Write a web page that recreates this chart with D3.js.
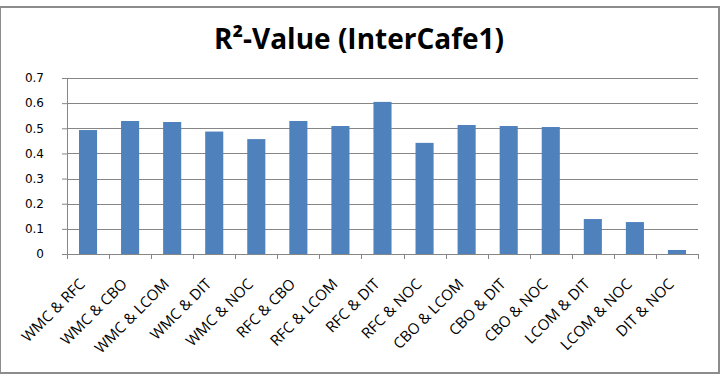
<!DOCTYPE html>
<html>
<head>
<meta charset="utf-8">
<script src="https://cdnjs.cloudflare.com/ajax/libs/d3/7.8.5/d3.min.js"></script>
<style>
  body { margin: 0; background: #fff; }
</style>
</head>
<body>
<script>
var w = 727;
var h = 380;

// data
var pairs = ["WMC & RFC", "WMC & CBO", "WMC & LCOM", "WMC & DIT", "WMC & NOC",
             "RFC & CBO", "RFC & LCOM", "RFC & DIT", "RFC & NOC", "CBO & LCOM",
             "CBO & DIT", "CBO & NOC", "LCOM & DIT", "LCOM & NOC", "DIT & NOC"];
var r2 = [0.493, 0.529, 0.525, 0.487, 0.457, 0.529, 0.509, 0.605, 0.442, 0.513,
          0.509, 0.505, 0.139, 0.127, 0.016];
var yTicks = [0, 0.1, 0.2, 0.3, 0.4, 0.5, 0.6, 0.7];

var plotLeft = 67, plotRight = 698, plotTop = 78, plotBottom = 254;

var svg = d3.select("body")
            .append("svg")
            .attr("width", w)
            .attr("height", h);

// chart frame
svg.append("rect")
   .attr("x", 0)
   .attr("y", 7)
   .attr("width", 719)
   .attr("height", 366)
   .attr("fill", "#fff")
   .attr("stroke", "#8c8c8c")
   .attr("stroke-width", 2);

svg.append("text")
   .attr("x", 359)
   .attr("y", 49)
   .attr("text-anchor", "middle")
   .attr("font-family", "Open Sans")
   .attr("font-weight", "bold")
   .attr("font-size", 28)
   .attr("fill", "#000")
   .text("R²-Value (InterCafe1)");

var x = d3.scaleBand()
          .domain(pairs)
          .range([plotLeft, plotRight])
          .paddingInner(0.57)
          .paddingOuter(0.285);

var y = d3.scaleLinear()
          .domain([0, 0.7])
          .range([plotBottom, plotTop]);

// gridlines
svg.append("g")
   .selectAll("line")
   .data(yTicks.slice(1))
   .enter()
   .append("line")
   .attr("x1", plotLeft)
   .attr("x2", plotRight)
   .attr("y1", function(d){ return Math.round(y(d)) + 0.5; })
   .attr("y2", function(d){ return Math.round(y(d)) + 0.5; })
   .attr("stroke", "#868686");

// y axis
var yAxis = svg.append("g")
   .attr("transform", "translate(" + plotLeft + ",0)")
   .call(d3.axisLeft(y).tickValues(yTicks).tickSize(5).tickPadding(18)
           .tickFormat(function(d){ return d === 0 ? "0" : d3.format(".1f")(d); }));
yAxis.select(".domain").attr("stroke", "#868686");
yAxis.selectAll(".tick line").attr("stroke", "#868686");
yAxis.selectAll("text")
     .attr("font-family", "DejaVu Sans")
     .attr("font-size", 12)
     .attr("fill", "#000");

// bars
svg.selectAll("rect.bar")
   .data(r2)
   .enter()
   .append("rect")
   .attr("class", "bar")
   .attr("x", function(d, i){ return x(pairs[i]); })
   .attr("y", function(d){ return y(d); })
   .attr("width", x.bandwidth())
   .attr("height", function(d){ return plotBottom - y(d); })
   .attr("fill", "#4f81bd");

// x axis with ticks between categories
var xAxis = svg.append("g")
   .attr("transform", "translate(0," + plotBottom + ")");
xAxis.append("line")
     .attr("x1", plotLeft).attr("x2", plotRight)
     .attr("y1", 0.5).attr("y2", 0.5)
     .attr("stroke", "#868686");
xAxis.selectAll("line.tk")
     .data(d3.range(pairs.length + 1))
     .enter()
     .append("line")
     .attr("class", "tk")
     .attr("x1", function(i){ return Math.round(plotLeft + i * (plotRight - plotLeft) / pairs.length) + 0.5; })
     .attr("x2", function(i){ return Math.round(plotLeft + i * (plotRight - plotLeft) / pairs.length) + 0.5; })
     .attr("y1", 0).attr("y2", 5)
     .attr("stroke", "#868686");

xAxis.selectAll("text")
     .data(pairs)
     .enter()
     .append("text")
     .attr("transform", function(d){
         return "translate(" + (x(d) + x.bandwidth() / 2 - 2) + ",31) rotate(-45)";
     })
     .attr("text-anchor", "end")
     .attr("font-family", "Open Sans")
     .attr("font-size", 15)
     .attr("fill", "#000")
     .text(function(d){ return d; });
</script>
</body>
</html>
